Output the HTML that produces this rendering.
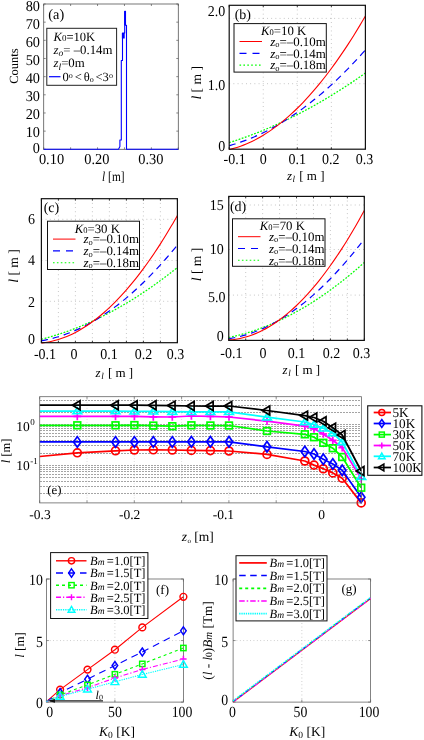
<!DOCTYPE html>
<html><head><meta charset="utf-8"><title>figure</title>
<style>
html,body{margin:0;padding:0;background:#fff;}
body{width:424px;height:740px;overflow:hidden;font-family:"Liberation Serif",serif;}
svg{display:block;font-family:"Liberation Serif",serif;text-rendering:geometricPrecision;will-change:transform;}
</style></head><body>
<svg width="424" height="740" viewBox="0 0 424 740">
<rect x="0" y="0" width="424" height="740" fill="#fff"/>
<rect x="43.70" y="4.00" width="134.60" height="145.30" stroke="#555" stroke-width="0.8" fill="none"/>
<line x1="43.70" y1="149.30" x2="45.70" y2="149.30" stroke="#555" stroke-width="0.7" />
<line x1="176.30" y1="149.30" x2="178.30" y2="149.30" stroke="#555" stroke-width="0.7" />
<text transform="translate(40.00,152.50) scale(1.0,1.05)" font-size="14.3" text-anchor="end" fill="#000" >0</text>
<line x1="43.70" y1="131.14" x2="45.70" y2="131.14" stroke="#555" stroke-width="0.7" />
<line x1="176.30" y1="131.14" x2="178.30" y2="131.14" stroke="#555" stroke-width="0.7" />
<text transform="translate(40.00,136.50) scale(1.0,1.05)" font-size="14.3" text-anchor="end" fill="#000" >10</text>
<line x1="43.70" y1="112.98" x2="45.70" y2="112.98" stroke="#555" stroke-width="0.7" />
<line x1="176.30" y1="112.98" x2="178.30" y2="112.98" stroke="#555" stroke-width="0.7" />
<text transform="translate(40.00,118.60) scale(1.0,1.05)" font-size="14.3" text-anchor="end" fill="#000" >20</text>
<line x1="43.70" y1="94.81" x2="45.70" y2="94.81" stroke="#555" stroke-width="0.7" />
<line x1="176.30" y1="94.81" x2="178.30" y2="94.81" stroke="#555" stroke-width="0.7" />
<text transform="translate(40.00,100.70) scale(1.0,1.05)" font-size="14.3" text-anchor="end" fill="#000" >30</text>
<line x1="43.70" y1="76.65" x2="45.70" y2="76.65" stroke="#555" stroke-width="0.7" />
<line x1="176.30" y1="76.65" x2="178.30" y2="76.65" stroke="#555" stroke-width="0.7" />
<text transform="translate(40.00,82.80) scale(1.0,1.05)" font-size="14.3" text-anchor="end" fill="#000" >40</text>
<line x1="43.70" y1="58.49" x2="45.70" y2="58.49" stroke="#555" stroke-width="0.7" />
<line x1="176.30" y1="58.49" x2="178.30" y2="58.49" stroke="#555" stroke-width="0.7" />
<text transform="translate(40.00,64.90) scale(1.0,1.05)" font-size="14.3" text-anchor="end" fill="#000" >50</text>
<line x1="43.70" y1="40.33" x2="45.70" y2="40.33" stroke="#555" stroke-width="0.7" />
<line x1="176.30" y1="40.33" x2="178.30" y2="40.33" stroke="#555" stroke-width="0.7" />
<text transform="translate(40.00,47.00) scale(1.0,1.05)" font-size="14.3" text-anchor="end" fill="#000" >60</text>
<line x1="43.70" y1="22.16" x2="45.70" y2="22.16" stroke="#555" stroke-width="0.7" />
<line x1="176.30" y1="22.16" x2="178.30" y2="22.16" stroke="#555" stroke-width="0.7" />
<text transform="translate(40.00,29.10) scale(1.0,1.05)" font-size="14.3" text-anchor="end" fill="#000" >70</text>
<line x1="43.70" y1="4.00" x2="45.70" y2="4.00" stroke="#555" stroke-width="0.7" />
<line x1="176.30" y1="4.00" x2="178.30" y2="4.00" stroke="#555" stroke-width="0.7" />
<text transform="translate(40.00,11.20) scale(1.0,1.05)" font-size="14.3" text-anchor="end" fill="#000" >80</text>
<line x1="43.70" y1="149.30" x2="43.70" y2="147.30" stroke="#555" stroke-width="0.7" />
<line x1="43.70" y1="4.00" x2="43.70" y2="6.00" stroke="#555" stroke-width="0.7" />
<line x1="70.62" y1="149.30" x2="70.62" y2="147.30" stroke="#555" stroke-width="0.7" />
<line x1="70.62" y1="4.00" x2="70.62" y2="6.00" stroke="#555" stroke-width="0.7" />
<line x1="97.54" y1="149.30" x2="97.54" y2="147.30" stroke="#555" stroke-width="0.7" />
<line x1="97.54" y1="4.00" x2="97.54" y2="6.00" stroke="#555" stroke-width="0.7" />
<line x1="124.46" y1="149.30" x2="124.46" y2="147.30" stroke="#555" stroke-width="0.7" />
<line x1="124.46" y1="4.00" x2="124.46" y2="6.00" stroke="#555" stroke-width="0.7" />
<line x1="151.38" y1="149.30" x2="151.38" y2="147.30" stroke="#555" stroke-width="0.7" />
<line x1="151.38" y1="4.00" x2="151.38" y2="6.00" stroke="#555" stroke-width="0.7" />
<line x1="178.30" y1="149.30" x2="178.30" y2="147.30" stroke="#555" stroke-width="0.7" />
<line x1="178.30" y1="4.00" x2="178.30" y2="6.00" stroke="#555" stroke-width="0.7" />
<text transform="translate(51.50,163.60) scale(1.0,1.05)" font-size="14.4" text-anchor="middle" fill="#000" >0.10</text>
<text transform="translate(96.90,163.60) scale(1.0,1.05)" font-size="14.4" text-anchor="middle" fill="#000" >0.20</text>
<text transform="translate(150.80,163.60) scale(1.0,1.05)" font-size="14.4" text-anchor="middle" fill="#000" >0.30</text>
<text transform="translate(113.30,181.00) scale(1.0,1.2)" font-size="11.4" text-anchor="middle" fill="#000" ><tspan font-style="italic">l</tspan> [m]</text>
<text transform="translate(17.5,66) rotate(-90)" font-size="12.5" text-anchor="middle">Counts</text>
<polyline points="43.70,149.30 118.50,149.30 119.90,146.40 119.90,140.00 121.30,140.00 121.30,60.50 122.50,60.50 122.50,33.00 124.70,33.00 124.70,11.20 125.50,11.20 125.50,25.30 126.50,25.30 126.50,149.30 178.30,149.30" fill="none" stroke="#0000ff" stroke-width="1.1" stroke-linejoin="round" stroke-linejoin="miter"/>
<rect x="121.90" y="33.00" width="2.80" height="5.50" stroke="none" stroke-width="0" fill="#0000ff"/>
<rect x="124.20" y="11.20" width="1.60" height="14.00" stroke="none" stroke-width="0" fill="#0000ff"/>
<rect x="46.80" y="28.30" width="69.80" height="57.00" stroke="#222" stroke-width="1" fill="#fff"/>
<text x="53.50" y="40.90" font-size="12.6" text-anchor="start" fill="#000" ><tspan font-style="italic">K</tspan><tspan font-size="9">0</tspan>=10K</text>
<text x="53.50" y="53.60" font-size="12.8" text-anchor="start" fill="#000" ><tspan font-style="italic">z<tspan font-size="9.5" dy="2.5">o</tspan></tspan><tspan dy="-2.5">= –0.14m</tspan></text>
<text x="53.50" y="67.30" font-size="12.8" text-anchor="start" fill="#000" ><tspan font-style="italic">z<tspan font-size="9.5" dy="2.5">l</tspan></tspan><tspan dy="-2.5">=0m</tspan></text>
<line x1="49.00" y1="76.70" x2="60.50" y2="76.70" stroke="#0000ff" stroke-width="1.2" />
<text x="62.50" y="81.40" font-size="12.5" text-anchor="start" fill="#000" word-spacing="-1.2">0<tspan font-size="8" dy="-3.5">o</tspan><tspan dy="3.5"> &lt; θ</tspan><tspan font-size="8" dy="1">o</tspan><tspan dy="-1"> &lt;3</tspan><tspan font-size="8" dy="-3.5">o</tspan></text>
<text x="48.30" y="19.30" font-size="14.3" text-anchor="start" fill="#000" >(a)</text>
<line x1="263.25" y1="5.30" x2="263.25" y2="149.20" stroke="#adadad" stroke-width="0.75" stroke-dasharray="0.9,3.3" />
<line x1="297.30" y1="5.30" x2="297.30" y2="149.20" stroke="#adadad" stroke-width="0.75" stroke-dasharray="0.9,3.3" />
<line x1="331.35" y1="5.30" x2="331.35" y2="149.20" stroke="#adadad" stroke-width="0.75" stroke-dasharray="0.9,3.3" />
<line x1="229.20" y1="18.40" x2="365.40" y2="18.40" stroke="#adadad" stroke-width="0.75" stroke-dasharray="0.9,3.3" />
<line x1="229.20" y1="83.70" x2="365.40" y2="83.70" stroke="#adadad" stroke-width="0.75" stroke-dasharray="0.9,3.3" />
<path d="M229.20,142.60 C230.15,142.30 232.98,141.40 234.88,140.78 C236.77,140.16 238.66,139.53 240.55,138.87 C242.44,138.22 244.33,137.55 246.22,136.87 C248.12,136.18 250.01,135.49 251.90,134.77 C253.79,134.05 255.68,133.32 257.57,132.58 C259.47,131.83 261.36,131.07 263.25,130.29 C265.14,129.51 267.03,128.72 268.93,127.91 C270.82,127.10 272.71,126.27 274.60,125.43 C276.49,124.59 278.38,123.73 280.27,122.86 C282.17,121.99 284.06,121.10 285.95,120.20 C287.84,119.29 289.73,118.37 291.62,117.44 C293.52,116.50 295.41,115.55 297.30,114.59 C299.19,113.62 301.08,112.64 302.97,111.64 C304.87,110.64 306.76,109.63 308.65,108.60 C310.54,107.57 312.43,106.52 314.32,105.46 C316.22,104.40 318.11,103.32 320.00,102.23 C321.89,101.14 323.78,100.03 325.67,98.91 C327.57,97.78 329.46,96.64 331.35,95.49 C333.24,94.33 335.13,93.16 337.02,91.98 C338.92,90.79 340.81,89.59 342.70,88.37 C344.59,87.15 346.48,85.92 348.38,84.67 C350.27,83.42 352.16,82.15 354.05,80.87 C355.94,79.59 357.83,78.30 359.73,76.98 C361.62,75.67 364.45,73.66 365.40,73.00" fill="none" stroke="#00ff00" stroke-width="1.25" stroke-dasharray="1.8,1.5"/>
<path d="M229.20,145.70 C230.15,145.42 232.98,144.63 234.88,144.04 C236.77,143.46 238.66,142.84 240.55,142.18 C242.44,141.53 244.33,140.84 246.22,140.12 C248.12,139.40 250.01,138.65 251.90,137.86 C253.79,137.07 255.68,136.25 257.57,135.39 C259.47,134.53 261.36,133.64 263.25,132.72 C265.14,131.80 267.03,130.84 268.93,129.85 C270.82,128.86 272.71,127.83 274.60,126.77 C276.49,125.71 278.38,124.62 280.27,123.49 C282.17,122.37 284.06,121.21 285.95,120.01 C287.84,118.82 289.73,117.59 291.62,116.33 C293.52,115.07 295.41,113.77 297.30,112.44 C299.19,111.12 301.08,109.75 302.97,108.36 C304.87,106.96 306.76,105.53 308.65,104.06 C310.54,102.60 312.43,101.10 314.32,99.57 C316.22,98.04 318.11,96.47 320.00,94.87 C321.89,93.27 323.78,91.64 325.67,89.97 C327.57,88.31 329.46,86.61 331.35,84.87 C333.24,83.14 335.13,81.37 337.02,79.57 C338.92,77.76 340.81,75.93 342.70,74.06 C344.59,72.19 346.48,70.28 348.38,68.35 C350.27,66.41 352.16,64.44 354.05,62.43 C355.94,60.43 357.83,58.39 359.73,56.32 C361.62,54.25 364.45,51.05 365.40,50.00" fill="none" stroke="#0000ff" stroke-width="1.2" stroke-dasharray="6.6,4.9"/>
<path d="M229.20,149.50 C230.15,149.25 232.98,148.57 234.88,148.01 C236.77,147.45 238.66,146.84 240.55,146.17 C242.44,145.49 244.33,144.76 246.22,143.97 C248.12,143.18 250.01,142.33 251.90,141.42 C253.79,140.51 255.68,139.54 257.57,138.51 C259.47,137.48 261.36,136.39 263.25,135.25 C265.14,134.10 267.03,132.90 268.93,131.63 C270.82,130.37 272.71,129.05 274.60,127.67 C276.49,126.28 278.38,124.84 280.27,123.34 C282.17,121.84 284.06,120.28 285.95,118.67 C287.84,117.05 289.73,115.37 291.62,113.63 C293.52,111.90 295.41,110.10 297.30,108.25 C299.19,106.39 301.08,104.48 302.97,102.51 C304.87,100.54 306.76,98.51 308.65,96.42 C310.54,94.32 312.43,92.18 314.32,89.97 C316.22,87.76 318.11,85.49 320.00,83.17 C321.89,80.84 323.78,78.45 325.67,76.01 C327.57,73.56 329.46,71.06 331.35,68.50 C333.24,65.94 335.13,63.31 337.02,60.63 C338.92,57.95 340.81,55.21 342.70,52.42 C344.59,49.62 346.48,46.76 348.38,43.84 C350.27,40.93 352.16,37.95 354.05,34.92 C355.94,31.88 357.83,28.79 359.73,25.64 C361.62,22.48 364.45,17.61 365.40,16.00" fill="none" stroke="#ff0000" stroke-width="1.1"/>
<rect x="229.20" y="5.30" width="136.20" height="143.90" stroke="#111" stroke-width="1.2" fill="none"/>
<line x1="229.20" y1="149.20" x2="229.20" y2="147.20" stroke="#111" stroke-width="0.8" />
<line x1="229.20" y1="5.30" x2="229.20" y2="7.30" stroke="#111" stroke-width="0.8" />
<line x1="263.25" y1="149.20" x2="263.25" y2="147.20" stroke="#111" stroke-width="0.8" />
<line x1="263.25" y1="5.30" x2="263.25" y2="7.30" stroke="#111" stroke-width="0.8" />
<line x1="297.30" y1="149.20" x2="297.30" y2="147.20" stroke="#111" stroke-width="0.8" />
<line x1="297.30" y1="5.30" x2="297.30" y2="7.30" stroke="#111" stroke-width="0.8" />
<line x1="331.35" y1="149.20" x2="331.35" y2="147.20" stroke="#111" stroke-width="0.8" />
<line x1="331.35" y1="5.30" x2="331.35" y2="7.30" stroke="#111" stroke-width="0.8" />
<line x1="365.40" y1="149.20" x2="365.40" y2="147.20" stroke="#111" stroke-width="0.8" />
<line x1="365.40" y1="5.30" x2="365.40" y2="7.30" stroke="#111" stroke-width="0.8" />
<text transform="translate(225.20,16.30) scale(1.0,1.07)" font-size="14" text-anchor="end" fill="#000" >2.0</text>
<text transform="translate(225.20,89.70) scale(1.0,1.07)" font-size="14" text-anchor="end" fill="#000" >1.0</text>
<text transform="translate(225.20,151.30) scale(1.0,1.07)" font-size="14" text-anchor="end" fill="#000" >0</text>
<text transform="translate(234.60,163.70) scale(1.0,1.07)" font-size="14" text-anchor="middle" fill="#000" >-0.1</text>
<text transform="translate(263.30,163.70) scale(1.0,1.07)" font-size="14" text-anchor="middle" fill="#000" >0</text>
<text transform="translate(297.20,163.70) scale(1.0,1.07)" font-size="14" text-anchor="middle" fill="#000" >0.1</text>
<text transform="translate(330.80,163.70) scale(1.0,1.07)" font-size="14" text-anchor="middle" fill="#000" >0.2</text>
<text transform="translate(364.50,163.70) scale(1.0,1.07)" font-size="14" text-anchor="middle" fill="#000" >0.3</text>
<text x="305.70" y="180.00" font-size="13" text-anchor="middle" fill="#000" ><tspan font-style="italic">z<tspan font-size="9" dy="2" dx="0.5">l</tspan></tspan><tspan dy="-2" dx="1"> [ m ]</tspan></text>
<text transform="translate(200.5,82.8) rotate(-90)" font-size="13.6" text-anchor="middle"><tspan font-style="italic">l</tspan> [ m ]</text>
<rect x="234.00" y="23.60" width="92.30" height="48.50" stroke="#111" stroke-width="1" fill="#fff"/>
<text x="283.65" y="34.90" font-size="12.8" text-anchor="middle" fill="#000" ><tspan font-style="italic">K</tspan><tspan font-size="8.5">0</tspan>=10 K</text>
<line x1="239.50" y1="41.50" x2="262.00" y2="41.50" stroke="#ff0000" stroke-width="1" />
<line x1="239.50" y1="53.30" x2="262.00" y2="53.30" stroke="#0000ff" stroke-width="1.2" stroke-dasharray="7,6" />
<line x1="239.50" y1="65.10" x2="262.00" y2="65.10" stroke="#00ff00" stroke-width="1.1" stroke-dasharray="1.6,2.3" />
<text x="325.80" y="45.70" font-size="12.9" text-anchor="end" fill="#000" ><tspan font-style="italic">z</tspan><tspan font-size="8.5" dy="1.5">o</tspan><tspan dy="-1.5">=–0.10m</tspan></text>
<text x="325.80" y="57.50" font-size="12.9" text-anchor="end" fill="#000" ><tspan font-style="italic">z</tspan><tspan font-size="8.5" dy="1.5">o</tspan><tspan dy="-1.5">=–0.14m</tspan></text>
<text x="325.80" y="69.30" font-size="12.9" text-anchor="end" fill="#000" ><tspan font-style="italic">z</tspan><tspan font-size="8.5" dy="1.5">o</tspan><tspan dy="-1.5">=–0.18m</tspan></text>
<text x="234.70" y="19.00" font-size="14" text-anchor="start" fill="#000" >(b)</text>
<line x1="58.40" y1="198.70" x2="58.40" y2="342.70" stroke="#adadad" stroke-width="0.75" stroke-dasharray="0.9,3.3" />
<line x1="75.40" y1="198.70" x2="75.40" y2="342.70" stroke="#adadad" stroke-width="0.75" stroke-dasharray="0.9,3.3" />
<line x1="92.40" y1="198.70" x2="92.40" y2="342.70" stroke="#adadad" stroke-width="0.75" stroke-dasharray="0.9,3.3" />
<line x1="109.40" y1="198.70" x2="109.40" y2="342.70" stroke="#adadad" stroke-width="0.75" stroke-dasharray="0.9,3.3" />
<line x1="126.40" y1="198.70" x2="126.40" y2="342.70" stroke="#adadad" stroke-width="0.75" stroke-dasharray="0.9,3.3" />
<line x1="143.40" y1="198.70" x2="143.40" y2="342.70" stroke="#adadad" stroke-width="0.75" stroke-dasharray="0.9,3.3" />
<line x1="160.40" y1="198.70" x2="160.40" y2="342.70" stroke="#adadad" stroke-width="0.75" stroke-dasharray="0.9,3.3" />
<line x1="41.40" y1="219.30" x2="177.40" y2="219.30" stroke="#adadad" stroke-width="0.75" stroke-dasharray="0.9,3.3" />
<line x1="41.40" y1="260.50" x2="177.40" y2="260.50" stroke="#adadad" stroke-width="0.75" stroke-dasharray="0.9,3.3" />
<line x1="41.40" y1="301.30" x2="177.40" y2="301.30" stroke="#adadad" stroke-width="0.75" stroke-dasharray="0.9,3.3" />
<path d="M41.40,339.25 C42.34,339.00 45.18,338.28 47.07,337.76 C48.96,337.24 50.84,336.69 52.73,336.13 C54.62,335.57 56.51,334.98 58.40,334.38 C60.29,333.77 62.18,333.14 64.07,332.49 C65.96,331.84 67.84,331.17 69.73,330.48 C71.62,329.79 73.51,329.07 75.40,328.34 C77.29,327.60 79.18,326.84 81.07,326.06 C82.96,325.28 84.84,324.48 86.73,323.66 C88.62,322.83 90.51,321.99 92.40,321.12 C94.29,320.26 96.18,319.37 98.07,318.46 C99.96,317.55 101.84,316.62 103.73,315.66 C105.62,314.71 107.51,313.73 109.40,312.74 C111.29,311.74 113.18,310.72 115.07,309.68 C116.96,308.64 118.84,307.58 120.73,306.50 C122.62,305.42 124.51,304.31 126.40,303.18 C128.29,302.06 130.18,300.91 132.07,299.74 C133.96,298.57 135.84,297.38 137.73,296.16 C139.62,294.95 141.51,293.72 143.40,292.46 C145.29,291.20 147.18,289.93 149.07,288.63 C150.96,287.33 152.84,286.00 154.73,284.66 C156.62,283.32 158.51,281.95 160.40,280.57 C162.29,279.18 164.18,277.77 166.07,276.34 C167.96,274.91 169.84,273.46 171.73,271.99 C173.62,270.51 176.46,268.25 177.40,267.50" fill="none" stroke="#00ff00" stroke-width="1.25" stroke-dasharray="1.8,1.5"/>
<path d="M41.40,340.75 C42.34,340.57 45.18,340.06 47.07,339.65 C48.96,339.25 50.84,338.80 52.73,338.31 C54.62,337.82 56.51,337.28 58.40,336.71 C60.29,336.13 62.18,335.52 64.07,334.86 C65.96,334.20 67.84,333.50 69.73,332.76 C71.62,332.01 73.51,331.23 75.40,330.40 C77.29,329.58 79.18,328.71 81.07,327.80 C82.96,326.89 84.84,325.93 86.73,324.94 C88.62,323.95 90.51,322.91 92.40,321.83 C94.29,320.75 96.18,319.63 98.07,318.47 C99.96,317.31 101.84,316.11 103.73,314.86 C105.62,313.61 107.51,312.33 109.40,311.00 C111.29,309.67 113.18,308.29 115.07,306.88 C116.96,305.47 118.84,304.01 120.73,302.51 C122.62,301.02 124.51,299.48 126.40,297.89 C128.29,296.31 130.18,294.69 132.07,293.02 C133.96,291.36 135.84,289.65 137.73,287.90 C139.62,286.15 141.51,284.36 143.40,282.53 C145.29,280.69 147.18,278.82 149.07,276.90 C150.96,274.99 152.84,273.03 154.73,271.03 C156.62,269.02 158.51,266.98 160.40,264.90 C162.29,262.81 164.18,260.68 166.07,258.52 C167.96,256.35 169.84,254.14 171.73,251.88 C173.62,249.63 176.46,246.15 177.40,245.00" fill="none" stroke="#0000ff" stroke-width="1.2" stroke-dasharray="6.6,4.9"/>
<path d="M41.40,343.00 C42.34,342.87 45.18,342.54 47.07,342.22 C48.96,341.89 50.84,341.50 52.73,341.04 C54.62,340.59 56.51,340.06 58.40,339.47 C60.29,338.89 62.18,338.23 64.07,337.51 C65.96,336.79 67.84,336.00 69.73,335.15 C71.62,334.30 73.51,333.38 75.40,332.40 C77.29,331.42 79.18,330.37 81.07,329.26 C82.96,328.14 84.84,326.96 86.73,325.72 C88.62,324.47 90.51,323.16 92.40,321.78 C94.29,320.41 96.18,318.96 98.07,317.46 C99.96,315.95 101.84,314.37 103.73,312.73 C105.62,311.09 107.51,309.39 109.40,307.62 C111.29,305.85 113.18,304.01 115.07,302.11 C116.96,300.21 118.84,298.24 120.73,296.21 C122.62,294.17 124.51,292.07 126.40,289.91 C128.29,287.74 130.18,285.51 132.07,283.22 C133.96,280.92 135.84,278.56 137.73,276.13 C139.62,273.70 141.51,271.21 143.40,268.65 C145.29,266.09 147.18,263.47 149.07,260.78 C150.96,258.09 152.84,255.33 154.73,252.51 C156.62,249.69 158.51,246.80 160.40,243.85 C162.29,240.90 164.18,237.88 166.07,234.79 C167.96,231.71 169.84,228.56 171.73,225.34 C173.62,222.13 176.46,217.14 177.40,215.50" fill="none" stroke="#ff0000" stroke-width="1.1"/>
<rect x="41.40" y="198.70" width="136.00" height="144.00" stroke="#111" stroke-width="1.2" fill="none"/>
<line x1="41.40" y1="342.70" x2="41.40" y2="340.70" stroke="#111" stroke-width="0.8" />
<line x1="41.40" y1="198.70" x2="41.40" y2="200.70" stroke="#111" stroke-width="0.8" />
<line x1="58.40" y1="342.70" x2="58.40" y2="340.70" stroke="#111" stroke-width="0.8" />
<line x1="58.40" y1="198.70" x2="58.40" y2="200.70" stroke="#111" stroke-width="0.8" />
<line x1="75.40" y1="342.70" x2="75.40" y2="340.70" stroke="#111" stroke-width="0.8" />
<line x1="75.40" y1="198.70" x2="75.40" y2="200.70" stroke="#111" stroke-width="0.8" />
<line x1="92.40" y1="342.70" x2="92.40" y2="340.70" stroke="#111" stroke-width="0.8" />
<line x1="92.40" y1="198.70" x2="92.40" y2="200.70" stroke="#111" stroke-width="0.8" />
<line x1="109.40" y1="342.70" x2="109.40" y2="340.70" stroke="#111" stroke-width="0.8" />
<line x1="109.40" y1="198.70" x2="109.40" y2="200.70" stroke="#111" stroke-width="0.8" />
<line x1="126.40" y1="342.70" x2="126.40" y2="340.70" stroke="#111" stroke-width="0.8" />
<line x1="126.40" y1="198.70" x2="126.40" y2="200.70" stroke="#111" stroke-width="0.8" />
<line x1="143.40" y1="342.70" x2="143.40" y2="340.70" stroke="#111" stroke-width="0.8" />
<line x1="143.40" y1="198.70" x2="143.40" y2="200.70" stroke="#111" stroke-width="0.8" />
<line x1="160.40" y1="342.70" x2="160.40" y2="340.70" stroke="#111" stroke-width="0.8" />
<line x1="160.40" y1="198.70" x2="160.40" y2="200.70" stroke="#111" stroke-width="0.8" />
<line x1="177.40" y1="342.70" x2="177.40" y2="340.70" stroke="#111" stroke-width="0.8" />
<line x1="177.40" y1="198.70" x2="177.40" y2="200.70" stroke="#111" stroke-width="0.8" />
<text transform="translate(34.90,224.00) scale(1.0,1.07)" font-size="14" text-anchor="end" fill="#000" >6</text>
<text transform="translate(34.90,265.00) scale(1.0,1.07)" font-size="14" text-anchor="end" fill="#000" >4</text>
<text transform="translate(34.90,306.50) scale(1.0,1.07)" font-size="14" text-anchor="end" fill="#000" >2</text>
<text transform="translate(34.90,343.50) scale(1.0,1.07)" font-size="14" text-anchor="end" fill="#000" >0</text>
<text transform="translate(45.00,359.00) scale(1.0,1.07)" font-size="14" text-anchor="middle" fill="#000" >-0.1</text>
<text transform="translate(74.00,359.00) scale(1.0,1.07)" font-size="14" text-anchor="middle" fill="#000" >0</text>
<text transform="translate(109.00,359.00) scale(1.0,1.07)" font-size="14" text-anchor="middle" fill="#000" >0.1</text>
<text transform="translate(143.50,359.00) scale(1.0,1.07)" font-size="14" text-anchor="middle" fill="#000" >0.2</text>
<text transform="translate(175.50,359.00) scale(1.0,1.07)" font-size="14" text-anchor="middle" fill="#000" >0.3</text>
<text x="114.40" y="377.40" font-size="13" text-anchor="middle" fill="#000" ><tspan font-style="italic">z<tspan font-size="9" dy="2" dx="0.5">l</tspan></tspan><tspan dy="-2" dx="1"> [ m ]</tspan></text>
<text transform="translate(17.5,266) rotate(-90)" font-size="13.6" text-anchor="middle"><tspan font-style="italic">l</tspan> [ m ]</text>
<rect x="47.50" y="221.20" width="92.00" height="48.30" stroke="#111" stroke-width="1" fill="#fff"/>
<text x="97.30" y="232.50" font-size="12.8" text-anchor="middle" fill="#000" ><tspan font-style="italic">K</tspan><tspan font-size="8.5">0</tspan>=30 K</text>
<line x1="53.00" y1="239.10" x2="75.50" y2="239.10" stroke="#ff0000" stroke-width="1" />
<line x1="53.00" y1="250.90" x2="75.50" y2="250.90" stroke="#0000ff" stroke-width="1.2" stroke-dasharray="7,6" />
<line x1="53.00" y1="262.70" x2="75.50" y2="262.70" stroke="#00ff00" stroke-width="1.1" stroke-dasharray="1.6,2.3" />
<text x="139.00" y="243.30" font-size="12.9" text-anchor="end" fill="#000" ><tspan font-style="italic">z</tspan><tspan font-size="8.5" dy="1.5">o</tspan><tspan dy="-1.5">=–0.10m</tspan></text>
<text x="139.00" y="255.10" font-size="12.9" text-anchor="end" fill="#000" ><tspan font-style="italic">z</tspan><tspan font-size="8.5" dy="1.5">o</tspan><tspan dy="-1.5">=–0.14m</tspan></text>
<text x="139.00" y="266.90" font-size="12.9" text-anchor="end" fill="#000" ><tspan font-style="italic">z</tspan><tspan font-size="8.5" dy="1.5">o</tspan><tspan dy="-1.5">=–0.18m</tspan></text>
<text x="43.70" y="212.20" font-size="14" text-anchor="start" fill="#000" >(c)</text>
<line x1="245.69" y1="196.40" x2="245.69" y2="340.40" stroke="#adadad" stroke-width="0.75" stroke-dasharray="0.9,3.3" />
<line x1="262.64" y1="196.40" x2="262.64" y2="340.40" stroke="#adadad" stroke-width="0.75" stroke-dasharray="0.9,3.3" />
<line x1="279.58" y1="196.40" x2="279.58" y2="340.40" stroke="#adadad" stroke-width="0.75" stroke-dasharray="0.9,3.3" />
<line x1="296.52" y1="196.40" x2="296.52" y2="340.40" stroke="#adadad" stroke-width="0.75" stroke-dasharray="0.9,3.3" />
<line x1="313.47" y1="196.40" x2="313.47" y2="340.40" stroke="#adadad" stroke-width="0.75" stroke-dasharray="0.9,3.3" />
<line x1="330.41" y1="196.40" x2="330.41" y2="340.40" stroke="#adadad" stroke-width="0.75" stroke-dasharray="0.9,3.3" />
<line x1="347.36" y1="196.40" x2="347.36" y2="340.40" stroke="#adadad" stroke-width="0.75" stroke-dasharray="0.9,3.3" />
<line x1="228.75" y1="205.00" x2="364.30" y2="205.00" stroke="#adadad" stroke-width="0.75" stroke-dasharray="0.9,3.3" />
<line x1="228.75" y1="249.50" x2="364.30" y2="249.50" stroke="#adadad" stroke-width="0.75" stroke-dasharray="0.9,3.3" />
<line x1="228.75" y1="295.10" x2="364.30" y2="295.10" stroke="#adadad" stroke-width="0.75" stroke-dasharray="0.9,3.3" />
<path d="M228.75,337.50 C229.69,337.29 232.52,336.69 234.40,336.25 C236.28,335.80 238.16,335.33 240.05,334.83 C241.93,334.33 243.81,333.80 245.69,333.25 C247.58,332.69 249.46,332.11 251.34,331.51 C253.22,330.90 255.11,330.26 256.99,329.60 C258.87,328.94 260.75,328.25 262.64,327.53 C264.52,326.82 266.40,326.07 268.29,325.30 C270.17,324.53 272.05,323.73 273.93,322.91 C275.82,322.08 277.70,321.23 279.58,320.35 C281.46,319.47 283.35,318.57 285.23,317.63 C287.11,316.70 288.99,315.74 290.88,314.75 C292.76,313.77 294.64,312.75 296.52,311.71 C298.41,310.67 300.29,309.60 302.17,308.50 C304.06,307.41 305.94,306.28 307.82,305.13 C309.70,303.98 311.59,302.81 313.47,301.60 C315.35,300.40 317.23,299.17 319.12,297.91 C321.00,296.65 322.88,295.36 324.76,294.05 C326.65,292.74 328.53,291.40 330.41,290.03 C332.30,288.67 334.18,287.27 336.06,285.85 C337.94,284.43 339.83,282.98 341.71,281.51 C343.59,280.03 345.47,278.53 347.36,277.00 C349.24,275.47 351.12,273.91 353.00,272.33 C354.89,270.74 356.77,269.13 358.65,267.50 C360.53,265.86 363.36,263.33 364.30,262.50" fill="none" stroke="#00ff00" stroke-width="1.25" stroke-dasharray="1.8,1.5"/>
<path d="M228.75,338.75 C229.69,338.58 232.52,338.12 234.40,337.74 C236.28,337.36 238.16,336.93 240.05,336.46 C241.93,335.98 243.81,335.46 245.69,334.90 C247.58,334.34 249.46,333.73 251.34,333.07 C253.22,332.41 255.11,331.71 256.99,330.97 C258.87,330.22 260.75,329.43 262.64,328.59 C264.52,327.75 266.40,326.87 268.29,325.94 C270.17,325.01 272.05,324.03 273.93,323.01 C275.82,321.99 277.70,320.92 279.58,319.81 C281.46,318.70 283.35,317.54 285.23,316.34 C287.11,315.14 288.99,313.89 290.88,312.60 C292.76,311.30 294.64,309.96 296.52,308.58 C298.41,307.19 300.29,305.76 302.17,304.28 C304.06,302.81 305.94,301.28 307.82,299.72 C309.70,298.15 311.59,296.53 313.47,294.88 C315.35,293.22 317.23,291.51 319.12,289.76 C321.00,288.01 322.88,286.22 324.76,284.37 C326.65,282.53 328.53,280.65 330.41,278.71 C332.30,276.78 334.18,274.80 336.06,272.78 C337.94,270.75 339.83,268.68 341.71,266.57 C343.59,264.45 345.47,262.29 347.36,260.09 C349.24,257.88 351.12,255.63 353.00,253.33 C354.89,251.03 356.77,248.69 358.65,246.30 C360.53,243.91 363.36,240.22 364.30,239.00" fill="none" stroke="#0000ff" stroke-width="1.2" stroke-dasharray="6.6,4.9"/>
<path d="M228.75,340.00 C229.69,339.91 232.52,339.69 234.40,339.43 C236.28,339.18 238.16,338.85 240.05,338.45 C241.93,338.05 243.81,337.58 245.69,337.04 C247.58,336.50 249.46,335.89 251.34,335.22 C253.22,334.54 255.11,333.79 256.99,332.97 C258.87,332.15 260.75,331.26 262.64,330.30 C264.52,329.35 266.40,328.32 268.29,327.22 C270.17,326.12 272.05,324.95 273.93,323.71 C275.82,322.47 277.70,321.16 279.58,319.79 C281.46,318.41 283.35,316.96 285.23,315.44 C287.11,313.92 288.99,312.33 290.88,310.67 C292.76,309.02 294.64,307.29 296.52,305.49 C298.41,303.69 300.29,301.82 302.17,299.88 C304.06,297.94 305.94,295.94 307.82,293.86 C309.70,291.78 311.59,289.63 313.47,287.41 C315.35,285.19 317.23,282.90 319.12,280.55 C321.00,278.19 322.88,275.76 324.76,273.26 C326.65,270.76 328.53,268.19 330.41,265.55 C332.30,262.92 334.18,260.21 336.06,257.43 C337.94,254.65 339.83,251.80 341.71,248.88 C343.59,245.96 345.47,242.98 347.36,239.92 C349.24,236.86 351.12,233.73 353.00,230.53 C354.89,227.33 356.77,224.06 358.65,220.73 C360.53,217.39 363.36,212.20 364.30,210.50" fill="none" stroke="#ff0000" stroke-width="1.1"/>
<rect x="228.75" y="196.40" width="135.55" height="144.00" stroke="#111" stroke-width="1.2" fill="none"/>
<line x1="228.75" y1="340.40" x2="228.75" y2="338.40" stroke="#111" stroke-width="0.8" />
<line x1="228.75" y1="196.40" x2="228.75" y2="198.40" stroke="#111" stroke-width="0.8" />
<line x1="245.69" y1="340.40" x2="245.69" y2="338.40" stroke="#111" stroke-width="0.8" />
<line x1="245.69" y1="196.40" x2="245.69" y2="198.40" stroke="#111" stroke-width="0.8" />
<line x1="262.64" y1="340.40" x2="262.64" y2="338.40" stroke="#111" stroke-width="0.8" />
<line x1="262.64" y1="196.40" x2="262.64" y2="198.40" stroke="#111" stroke-width="0.8" />
<line x1="279.58" y1="340.40" x2="279.58" y2="338.40" stroke="#111" stroke-width="0.8" />
<line x1="279.58" y1="196.40" x2="279.58" y2="198.40" stroke="#111" stroke-width="0.8" />
<line x1="296.52" y1="340.40" x2="296.52" y2="338.40" stroke="#111" stroke-width="0.8" />
<line x1="296.52" y1="196.40" x2="296.52" y2="198.40" stroke="#111" stroke-width="0.8" />
<line x1="313.47" y1="340.40" x2="313.47" y2="338.40" stroke="#111" stroke-width="0.8" />
<line x1="313.47" y1="196.40" x2="313.47" y2="198.40" stroke="#111" stroke-width="0.8" />
<line x1="330.41" y1="340.40" x2="330.41" y2="338.40" stroke="#111" stroke-width="0.8" />
<line x1="330.41" y1="196.40" x2="330.41" y2="198.40" stroke="#111" stroke-width="0.8" />
<line x1="347.36" y1="340.40" x2="347.36" y2="338.40" stroke="#111" stroke-width="0.8" />
<line x1="347.36" y1="196.40" x2="347.36" y2="198.40" stroke="#111" stroke-width="0.8" />
<line x1="364.30" y1="340.40" x2="364.30" y2="338.40" stroke="#111" stroke-width="0.8" />
<line x1="364.30" y1="196.40" x2="364.30" y2="198.40" stroke="#111" stroke-width="0.8" />
<text transform="translate(223.75,210.00) scale(1.0,1.07)" font-size="14" text-anchor="end" fill="#000" >15</text>
<text transform="translate(223.75,254.00) scale(1.0,1.07)" font-size="14" text-anchor="end" fill="#000" >10</text>
<text transform="translate(225.55,301.60) scale(1.0,1.07)" font-size="14" text-anchor="end" fill="#000" >5.0</text>
<text transform="translate(223.75,341.00) scale(1.0,1.07)" font-size="14" text-anchor="end" fill="#000" >0</text>
<text transform="translate(231.30,358.00) scale(1.0,1.07)" font-size="14" text-anchor="middle" fill="#000" >-0.1</text>
<text transform="translate(263.10,358.00) scale(1.0,1.07)" font-size="14" text-anchor="middle" fill="#000" >0</text>
<text transform="translate(296.40,358.00) scale(1.0,1.07)" font-size="14" text-anchor="middle" fill="#000" >0.1</text>
<text transform="translate(331.40,358.00) scale(1.0,1.07)" font-size="14" text-anchor="middle" fill="#000" >0.2</text>
<text transform="translate(361.40,358.00) scale(1.0,1.07)" font-size="14" text-anchor="middle" fill="#000" >0.3</text>
<text x="301.40" y="374.20" font-size="13" text-anchor="middle" fill="#000" ><tspan font-style="italic">z<tspan font-size="9" dy="2" dx="0.5">l</tspan></tspan><tspan dy="-2" dx="1"> [ m ]</tspan></text>
<text transform="translate(201,264.5) rotate(-90)" font-size="13.6" text-anchor="middle"><tspan font-style="italic">l</tspan> [ m ]</text>
<rect x="232.50" y="218.80" width="92.50" height="47.50" stroke="#111" stroke-width="1" fill="#fff"/>
<text x="282.35" y="230.10" font-size="12.8" text-anchor="middle" fill="#000" ><tspan font-style="italic">K</tspan><tspan font-size="8.5">0</tspan>=70 K</text>
<line x1="238.00" y1="236.70" x2="260.50" y2="236.70" stroke="#ff0000" stroke-width="1" />
<line x1="238.00" y1="248.50" x2="260.50" y2="248.50" stroke="#0000ff" stroke-width="1.2" stroke-dasharray="7,6" />
<line x1="238.00" y1="260.30" x2="260.50" y2="260.30" stroke="#00ff00" stroke-width="1.1" stroke-dasharray="1.6,2.3" />
<text x="324.50" y="240.90" font-size="12.9" text-anchor="end" fill="#000" ><tspan font-style="italic">z</tspan><tspan font-size="8.5" dy="1.5">o</tspan><tspan dy="-1.5">=–0.10m</tspan></text>
<text x="324.50" y="252.70" font-size="12.9" text-anchor="end" fill="#000" ><tspan font-style="italic">z</tspan><tspan font-size="8.5" dy="1.5">o</tspan><tspan dy="-1.5">=–0.14m</tspan></text>
<text x="324.50" y="264.50" font-size="12.9" text-anchor="end" fill="#000" ><tspan font-style="italic">z</tspan><tspan font-size="8.5" dy="1.5">o</tspan><tspan dy="-1.5">=–0.18m</tspan></text>
<text x="229.95" y="210.90" font-size="14" text-anchor="start" fill="#000" >(d)</text>
<line x1="39.70" y1="493.50" x2="361.40" y2="493.50" stroke="#a4a4a4" stroke-width="1" stroke-dasharray="2,1" shape-rendering="crispEdges"/>
<line x1="39.70" y1="486.50" x2="361.40" y2="486.50" stroke="#a4a4a4" stroke-width="1" stroke-dasharray="2,1" shape-rendering="crispEdges"/>
<line x1="39.70" y1="481.50" x2="361.40" y2="481.50" stroke="#a4a4a4" stroke-width="1" stroke-dasharray="2,1" shape-rendering="crispEdges"/>
<line x1="39.70" y1="477.50" x2="361.40" y2="477.50" stroke="#a4a4a4" stroke-width="1" stroke-dasharray="2,1" shape-rendering="crispEdges"/>
<line x1="39.70" y1="474.50" x2="361.40" y2="474.50" stroke="#a4a4a4" stroke-width="1" stroke-dasharray="2,1" shape-rendering="crispEdges"/>
<line x1="39.70" y1="471.50" x2="361.40" y2="471.50" stroke="#a4a4a4" stroke-width="1" stroke-dasharray="2,1" shape-rendering="crispEdges"/>
<line x1="39.70" y1="469.50" x2="361.40" y2="469.50" stroke="#a4a4a4" stroke-width="1" stroke-dasharray="2,1" shape-rendering="crispEdges"/>
<line x1="39.70" y1="467.50" x2="361.40" y2="467.50" stroke="#a4a4a4" stroke-width="1" stroke-dasharray="2,1" shape-rendering="crispEdges"/>
<line x1="39.70" y1="465.50" x2="361.40" y2="465.50" stroke="#a4a4a4" stroke-width="1" stroke-dasharray="2,1" shape-rendering="crispEdges"/>
<line x1="39.70" y1="453.50" x2="361.40" y2="453.50" stroke="#a4a4a4" stroke-width="1" stroke-dasharray="2,1" shape-rendering="crispEdges"/>
<line x1="39.70" y1="445.50" x2="361.40" y2="445.50" stroke="#a4a4a4" stroke-width="1" stroke-dasharray="2,1" shape-rendering="crispEdges"/>
<line x1="39.70" y1="440.50" x2="361.40" y2="440.50" stroke="#a4a4a4" stroke-width="1" stroke-dasharray="2,1" shape-rendering="crispEdges"/>
<line x1="39.70" y1="436.50" x2="361.40" y2="436.50" stroke="#a4a4a4" stroke-width="1" stroke-dasharray="2,1" shape-rendering="crispEdges"/>
<line x1="39.70" y1="433.50" x2="361.40" y2="433.50" stroke="#a4a4a4" stroke-width="1" stroke-dasharray="2,1" shape-rendering="crispEdges"/>
<line x1="39.70" y1="430.50" x2="361.40" y2="430.50" stroke="#a4a4a4" stroke-width="1" stroke-dasharray="2,1" shape-rendering="crispEdges"/>
<line x1="39.70" y1="428.50" x2="361.40" y2="428.50" stroke="#a4a4a4" stroke-width="1" stroke-dasharray="2,1" shape-rendering="crispEdges"/>
<line x1="39.70" y1="426.50" x2="361.40" y2="426.50" stroke="#a4a4a4" stroke-width="1" stroke-dasharray="2,1" shape-rendering="crispEdges"/>
<line x1="39.70" y1="424.50" x2="361.40" y2="424.50" stroke="#a4a4a4" stroke-width="1" stroke-dasharray="2,1" shape-rendering="crispEdges"/>
<line x1="39.70" y1="412.50" x2="361.40" y2="412.50" stroke="#a4a4a4" stroke-width="1" stroke-dasharray="2,1" shape-rendering="crispEdges"/>
<line x1="39.70" y1="405.50" x2="361.40" y2="405.50" stroke="#a4a4a4" stroke-width="1" stroke-dasharray="2,1" shape-rendering="crispEdges"/>
<line x1="39.70" y1="400.50" x2="361.40" y2="400.50" stroke="#a4a4a4" stroke-width="1" stroke-dasharray="2,1" shape-rendering="crispEdges"/>
<line x1="87.00" y1="396.70" x2="87.00" y2="502.90" stroke="#bbb" stroke-width="0.6" stroke-dasharray="0.8,2" />
<line x1="134.30" y1="396.70" x2="134.30" y2="502.90" stroke="#bbb" stroke-width="0.6" stroke-dasharray="0.8,2" />
<line x1="181.60" y1="396.70" x2="181.60" y2="502.90" stroke="#bbb" stroke-width="0.6" stroke-dasharray="0.8,2" />
<line x1="228.90" y1="396.70" x2="228.90" y2="502.90" stroke="#bbb" stroke-width="0.6" stroke-dasharray="0.8,2" />
<line x1="276.20" y1="396.70" x2="276.20" y2="502.90" stroke="#bbb" stroke-width="0.6" stroke-dasharray="0.8,2" />
<line x1="323.50" y1="396.70" x2="323.50" y2="502.90" stroke="#bbb" stroke-width="0.6" stroke-dasharray="0.8,2" />
<polyline points="39.70,456.50 77.30,452.80 115.50,450.80 134.40,450.00 153.30,449.80 172.30,450.00 191.40,450.40 210.40,450.60 229.00,451.00 267.00,454.40 304.80,461.00 314.00,465.10 323.30,468.80 332.80,472.90 342.20,478.20 361.20,502.90" fill="none" stroke="#ff0000" stroke-width="1.75" stroke-linejoin="round" />
<circle cx="77.30" cy="452.80" r="3.96" fill="none" stroke="#ff0000" stroke-width="1.7"/>
<circle cx="115.50" cy="450.80" r="3.96" fill="none" stroke="#ff0000" stroke-width="1.7"/>
<circle cx="134.40" cy="450.00" r="3.96" fill="none" stroke="#ff0000" stroke-width="1.7"/>
<circle cx="153.30" cy="449.80" r="3.96" fill="none" stroke="#ff0000" stroke-width="1.7"/>
<circle cx="172.30" cy="450.00" r="3.96" fill="none" stroke="#ff0000" stroke-width="1.7"/>
<circle cx="191.40" cy="450.40" r="3.96" fill="none" stroke="#ff0000" stroke-width="1.7"/>
<circle cx="210.40" cy="450.60" r="3.96" fill="none" stroke="#ff0000" stroke-width="1.7"/>
<circle cx="229.00" cy="451.00" r="3.96" fill="none" stroke="#ff0000" stroke-width="1.7"/>
<circle cx="267.00" cy="454.40" r="3.96" fill="none" stroke="#ff0000" stroke-width="1.7"/>
<circle cx="304.80" cy="461.00" r="3.96" fill="none" stroke="#ff0000" stroke-width="1.7"/>
<circle cx="314.00" cy="465.10" r="3.96" fill="none" stroke="#ff0000" stroke-width="1.7"/>
<circle cx="323.30" cy="468.80" r="3.96" fill="none" stroke="#ff0000" stroke-width="1.7"/>
<circle cx="332.80" cy="472.90" r="3.96" fill="none" stroke="#ff0000" stroke-width="1.7"/>
<circle cx="342.20" cy="478.20" r="3.96" fill="none" stroke="#ff0000" stroke-width="1.7"/>
<circle cx="361.20" cy="502.90" r="3.96" fill="none" stroke="#ff0000" stroke-width="1.7"/>
<polyline points="39.70,441.90 77.30,441.90 115.50,441.90 134.40,441.90 153.30,441.90 172.30,441.90 191.40,441.80 210.40,441.80 229.00,441.80 267.00,446.80 304.80,451.50 314.00,454.00 323.30,459.30 332.80,464.00 342.20,470.30 361.20,497.20" fill="none" stroke="#0000ff" stroke-width="1.75" stroke-linejoin="round" />
<path d="M77.30,436.62 L81.02,441.90 L77.30,447.18 L73.58,441.90 Z" fill="none" stroke="#0000ff" stroke-width="1.7"/>
<path d="M115.50,436.62 L119.22,441.90 L115.50,447.18 L111.78,441.90 Z" fill="none" stroke="#0000ff" stroke-width="1.7"/>
<path d="M134.40,436.62 L138.12,441.90 L134.40,447.18 L130.68,441.90 Z" fill="none" stroke="#0000ff" stroke-width="1.7"/>
<path d="M153.30,436.62 L157.02,441.90 L153.30,447.18 L149.58,441.90 Z" fill="none" stroke="#0000ff" stroke-width="1.7"/>
<path d="M172.30,436.62 L176.02,441.90 L172.30,447.18 L168.58,441.90 Z" fill="none" stroke="#0000ff" stroke-width="1.7"/>
<path d="M191.40,436.52 L195.12,441.80 L191.40,447.08 L187.68,441.80 Z" fill="none" stroke="#0000ff" stroke-width="1.7"/>
<path d="M210.40,436.52 L214.12,441.80 L210.40,447.08 L206.68,441.80 Z" fill="none" stroke="#0000ff" stroke-width="1.7"/>
<path d="M229.00,436.52 L232.72,441.80 L229.00,447.08 L225.28,441.80 Z" fill="none" stroke="#0000ff" stroke-width="1.7"/>
<path d="M267.00,441.52 L270.72,446.80 L267.00,452.08 L263.28,446.80 Z" fill="none" stroke="#0000ff" stroke-width="1.7"/>
<path d="M304.80,446.22 L308.52,451.50 L304.80,456.78 L301.08,451.50 Z" fill="none" stroke="#0000ff" stroke-width="1.7"/>
<path d="M314.00,448.72 L317.72,454.00 L314.00,459.28 L310.28,454.00 Z" fill="none" stroke="#0000ff" stroke-width="1.7"/>
<path d="M323.30,454.02 L327.02,459.30 L323.30,464.58 L319.58,459.30 Z" fill="none" stroke="#0000ff" stroke-width="1.7"/>
<path d="M332.80,458.72 L336.52,464.00 L332.80,469.28 L329.08,464.00 Z" fill="none" stroke="#0000ff" stroke-width="1.7"/>
<path d="M342.20,465.02 L345.92,470.30 L342.20,475.58 L338.48,470.30 Z" fill="none" stroke="#0000ff" stroke-width="1.7"/>
<path d="M361.20,491.92 L364.92,497.20 L361.20,502.48 L357.48,497.20 Z" fill="none" stroke="#0000ff" stroke-width="1.7"/>
<polyline points="39.70,425.30 77.30,425.30 115.50,425.30 134.40,425.10 153.30,425.60 172.30,426.20 191.40,425.30 210.40,425.50 229.00,425.50 267.00,431.00 304.80,434.30 314.00,437.20 323.30,442.80 332.80,448.20 342.20,457.00 361.20,487.70" fill="none" stroke="#00ff00" stroke-width="1.75" stroke-linejoin="round" />
<rect x="73.94" y="421.94" width="6.72" height="6.72" fill="none" stroke="#00ff00" stroke-width="1.7"/>
<rect x="112.14" y="421.94" width="6.72" height="6.72" fill="none" stroke="#00ff00" stroke-width="1.7"/>
<rect x="131.04" y="421.74" width="6.72" height="6.72" fill="none" stroke="#00ff00" stroke-width="1.7"/>
<rect x="149.94" y="422.24" width="6.72" height="6.72" fill="none" stroke="#00ff00" stroke-width="1.7"/>
<rect x="168.94" y="422.84" width="6.72" height="6.72" fill="none" stroke="#00ff00" stroke-width="1.7"/>
<rect x="188.04" y="421.94" width="6.72" height="6.72" fill="none" stroke="#00ff00" stroke-width="1.7"/>
<rect x="207.04" y="422.14" width="6.72" height="6.72" fill="none" stroke="#00ff00" stroke-width="1.7"/>
<rect x="225.64" y="422.14" width="6.72" height="6.72" fill="none" stroke="#00ff00" stroke-width="1.7"/>
<rect x="263.64" y="427.64" width="6.72" height="6.72" fill="none" stroke="#00ff00" stroke-width="1.7"/>
<rect x="301.44" y="430.94" width="6.72" height="6.72" fill="none" stroke="#00ff00" stroke-width="1.7"/>
<rect x="310.64" y="433.84" width="6.72" height="6.72" fill="none" stroke="#00ff00" stroke-width="1.7"/>
<rect x="319.94" y="439.44" width="6.72" height="6.72" fill="none" stroke="#00ff00" stroke-width="1.7"/>
<rect x="329.44" y="444.84" width="6.72" height="6.72" fill="none" stroke="#00ff00" stroke-width="1.7"/>
<rect x="338.84" y="453.64" width="6.72" height="6.72" fill="none" stroke="#00ff00" stroke-width="1.7"/>
<rect x="357.84" y="484.34" width="6.72" height="6.72" fill="none" stroke="#00ff00" stroke-width="1.7"/>
<polyline points="39.70,416.30 77.30,416.30 115.50,416.30 134.40,416.30 153.30,416.80 172.30,417.00 191.40,416.00 210.40,416.40 229.00,417.00 267.00,421.20 304.80,426.20 314.00,428.80 323.30,434.00 332.80,440.30 342.20,447.60 361.20,478.90" fill="none" stroke="#ff00ff" stroke-width="1.75" stroke-linejoin="round" />
<path d="M73.46,416.30 h7.68 M77.30,412.46 v7.68" fill="none" stroke="#ff00ff" stroke-width="1.7"/>
<path d="M111.66,416.30 h7.68 M115.50,412.46 v7.68" fill="none" stroke="#ff00ff" stroke-width="1.7"/>
<path d="M130.56,416.30 h7.68 M134.40,412.46 v7.68" fill="none" stroke="#ff00ff" stroke-width="1.7"/>
<path d="M149.46,416.80 h7.68 M153.30,412.96 v7.68" fill="none" stroke="#ff00ff" stroke-width="1.7"/>
<path d="M168.46,417.00 h7.68 M172.30,413.16 v7.68" fill="none" stroke="#ff00ff" stroke-width="1.7"/>
<path d="M187.56,416.00 h7.68 M191.40,412.16 v7.68" fill="none" stroke="#ff00ff" stroke-width="1.7"/>
<path d="M206.56,416.40 h7.68 M210.40,412.56 v7.68" fill="none" stroke="#ff00ff" stroke-width="1.7"/>
<path d="M225.16,417.00 h7.68 M229.00,413.16 v7.68" fill="none" stroke="#ff00ff" stroke-width="1.7"/>
<path d="M263.16,421.20 h7.68 M267.00,417.36 v7.68" fill="none" stroke="#ff00ff" stroke-width="1.7"/>
<path d="M300.96,426.20 h7.68 M304.80,422.36 v7.68" fill="none" stroke="#ff00ff" stroke-width="1.7"/>
<path d="M310.16,428.80 h7.68 M314.00,424.96 v7.68" fill="none" stroke="#ff00ff" stroke-width="1.7"/>
<path d="M319.46,434.00 h7.68 M323.30,430.16 v7.68" fill="none" stroke="#ff00ff" stroke-width="1.7"/>
<path d="M328.96,440.30 h7.68 M332.80,436.46 v7.68" fill="none" stroke="#ff00ff" stroke-width="1.7"/>
<path d="M338.36,447.60 h7.68 M342.20,443.76 v7.68" fill="none" stroke="#ff00ff" stroke-width="1.7"/>
<path d="M357.36,478.90 h7.68 M361.20,475.06 v7.68" fill="none" stroke="#ff00ff" stroke-width="1.7"/>
<polyline points="39.70,411.00 77.30,411.00 115.50,411.00 134.40,411.30 153.30,411.30 172.30,411.60 191.40,411.80 210.40,411.80 229.00,411.80 267.00,417.20 304.80,422.00 314.00,424.50 323.30,428.30 332.80,433.00 342.20,442.00 361.20,476.70" fill="none" stroke="#00ffff" stroke-width="1.75" stroke-linejoin="round" />
<path d="M77.30,407.63 L81.62,413.68 L72.98,413.68 Z" fill="none" stroke="#00ffff" stroke-width="1.7"/>
<path d="M115.50,407.63 L119.82,413.68 L111.18,413.68 Z" fill="none" stroke="#00ffff" stroke-width="1.7"/>
<path d="M134.40,407.93 L138.72,413.98 L130.08,413.98 Z" fill="none" stroke="#00ffff" stroke-width="1.7"/>
<path d="M153.30,407.93 L157.62,413.98 L148.98,413.98 Z" fill="none" stroke="#00ffff" stroke-width="1.7"/>
<path d="M172.30,408.23 L176.62,414.28 L167.98,414.28 Z" fill="none" stroke="#00ffff" stroke-width="1.7"/>
<path d="M191.40,408.43 L195.72,414.48 L187.08,414.48 Z" fill="none" stroke="#00ffff" stroke-width="1.7"/>
<path d="M210.40,408.43 L214.72,414.48 L206.08,414.48 Z" fill="none" stroke="#00ffff" stroke-width="1.7"/>
<path d="M229.00,408.43 L233.32,414.48 L224.68,414.48 Z" fill="none" stroke="#00ffff" stroke-width="1.7"/>
<path d="M267.00,413.83 L271.32,419.88 L262.68,419.88 Z" fill="none" stroke="#00ffff" stroke-width="1.7"/>
<path d="M304.80,418.63 L309.12,424.68 L300.48,424.68 Z" fill="none" stroke="#00ffff" stroke-width="1.7"/>
<path d="M314.00,421.13 L318.32,427.18 L309.68,427.18 Z" fill="none" stroke="#00ffff" stroke-width="1.7"/>
<path d="M323.30,424.93 L327.62,430.98 L318.98,430.98 Z" fill="none" stroke="#00ffff" stroke-width="1.7"/>
<path d="M332.80,429.63 L337.12,435.68 L328.48,435.68 Z" fill="none" stroke="#00ffff" stroke-width="1.7"/>
<path d="M342.20,438.63 L346.52,444.68 L337.88,444.68 Z" fill="none" stroke="#00ffff" stroke-width="1.7"/>
<path d="M361.20,473.33 L365.52,479.38 L356.88,479.38 Z" fill="none" stroke="#00ffff" stroke-width="1.7"/>
<polyline points="39.70,405.20 77.30,405.20 115.50,405.20 134.40,405.20 153.30,405.30 172.30,405.60 191.40,406.00 210.40,406.00 229.00,406.00 267.00,410.50 304.80,415.60 314.00,417.50 323.30,421.30 332.80,427.70 342.20,435.00 361.20,471.00" fill="none" stroke="#000" stroke-width="1.75" stroke-linejoin="round" />
<path d="M72.42,405.20 L80.04,400.73 L80.04,409.67 Z" fill="none" stroke="#000" stroke-width="1.7"/>
<path d="M110.62,405.20 L118.24,400.73 L118.24,409.67 Z" fill="none" stroke="#000" stroke-width="1.7"/>
<path d="M129.52,405.20 L137.14,400.73 L137.14,409.67 Z" fill="none" stroke="#000" stroke-width="1.7"/>
<path d="M148.42,405.30 L156.04,400.83 L156.04,409.77 Z" fill="none" stroke="#000" stroke-width="1.7"/>
<path d="M167.42,405.60 L175.04,401.13 L175.04,410.07 Z" fill="none" stroke="#000" stroke-width="1.7"/>
<path d="M186.52,406.00 L194.14,401.53 L194.14,410.47 Z" fill="none" stroke="#000" stroke-width="1.7"/>
<path d="M205.52,406.00 L213.14,401.53 L213.14,410.47 Z" fill="none" stroke="#000" stroke-width="1.7"/>
<path d="M224.12,406.00 L231.74,401.53 L231.74,410.47 Z" fill="none" stroke="#000" stroke-width="1.7"/>
<path d="M262.12,410.50 L269.74,406.03 L269.74,414.97 Z" fill="none" stroke="#000" stroke-width="1.7"/>
<path d="M299.92,415.60 L307.54,411.13 L307.54,420.07 Z" fill="none" stroke="#000" stroke-width="1.7"/>
<path d="M309.12,417.50 L316.74,413.03 L316.74,421.97 Z" fill="none" stroke="#000" stroke-width="1.7"/>
<path d="M318.42,421.30 L326.04,416.83 L326.04,425.77 Z" fill="none" stroke="#000" stroke-width="1.7"/>
<path d="M327.92,427.70 L335.54,423.23 L335.54,432.17 Z" fill="none" stroke="#000" stroke-width="1.7"/>
<path d="M337.32,435.00 L344.94,430.53 L344.94,439.47 Z" fill="none" stroke="#000" stroke-width="1.7"/>
<path d="M356.32,471.00 L363.94,466.53 L363.94,475.47 Z" fill="none" stroke="#000" stroke-width="1.7"/>
<rect x="39.70" y="396.70" width="321.70" height="106.20" stroke="#646464" stroke-width="0.8" fill="none"/>
<line x1="39.70" y1="502.90" x2="39.70" y2="500.40" stroke="#646464" stroke-width="0.7" />
<line x1="39.70" y1="396.70" x2="39.70" y2="399.20" stroke="#646464" stroke-width="0.7" />
<line x1="87.00" y1="502.90" x2="87.00" y2="500.40" stroke="#646464" stroke-width="0.7" />
<line x1="87.00" y1="396.70" x2="87.00" y2="399.20" stroke="#646464" stroke-width="0.7" />
<line x1="134.30" y1="502.90" x2="134.30" y2="500.40" stroke="#646464" stroke-width="0.7" />
<line x1="134.30" y1="396.70" x2="134.30" y2="399.20" stroke="#646464" stroke-width="0.7" />
<line x1="181.60" y1="502.90" x2="181.60" y2="500.40" stroke="#646464" stroke-width="0.7" />
<line x1="181.60" y1="396.70" x2="181.60" y2="399.20" stroke="#646464" stroke-width="0.7" />
<line x1="228.90" y1="502.90" x2="228.90" y2="500.40" stroke="#646464" stroke-width="0.7" />
<line x1="228.90" y1="396.70" x2="228.90" y2="399.20" stroke="#646464" stroke-width="0.7" />
<line x1="276.20" y1="502.90" x2="276.20" y2="500.40" stroke="#646464" stroke-width="0.7" />
<line x1="276.20" y1="396.70" x2="276.20" y2="399.20" stroke="#646464" stroke-width="0.7" />
<line x1="323.50" y1="502.90" x2="323.50" y2="500.40" stroke="#646464" stroke-width="0.7" />
<line x1="323.50" y1="396.70" x2="323.50" y2="399.20" stroke="#646464" stroke-width="0.7" />
<text x="16.30" y="431.30" font-size="13.5" text-anchor="start" fill="#000" >10<tspan font-size="9" dy="-6" dx="0.5">0</tspan></text>
<text x="16.30" y="469.60" font-size="13.5" text-anchor="start" fill="#000" >10<tspan font-size="9" dy="-6" dx="0.5">-1</tspan></text>
<text transform="translate(9.5,451) rotate(-90)" font-size="12.5" text-anchor="middle"><tspan font-style="italic">l</tspan> [m]</text>
<text x="47.30" y="493.50" font-size="12.8" text-anchor="start" fill="#000" >(e)</text>
<text x="40.00" y="519.00" font-size="13.5" text-anchor="middle" fill="#000" >-0.3</text>
<text x="129.70" y="519.00" font-size="13.5" text-anchor="middle" fill="#000" >-0.2</text>
<text x="223.40" y="519.00" font-size="13.5" text-anchor="middle" fill="#000" >-0.1</text>
<text x="321.60" y="519.00" font-size="13.5" text-anchor="middle" fill="#000" >0</text>
<text x="197.80" y="540.80" font-size="13.5" text-anchor="middle" fill="#000" ><tspan font-style="italic">z</tspan><tspan font-size="7" dy="2" dx="0.5">o</tspan><tspan dy="-2"> [m]</tspan></text>
<rect x="367.70" y="405.80" width="54.20" height="69.50" stroke="#111" stroke-width="1.1" fill="#fff"/>
<line x1="373.70" y1="412.50" x2="391.00" y2="412.50" stroke="#ff0000" stroke-width="1.75" />
<circle cx="381.80" cy="412.50" r="2.97" fill="none" stroke="#ff0000" stroke-width="1.5"/>
<text x="392.50" y="416.90" font-size="13.2" text-anchor="start" fill="#000" >5K</text>
<line x1="373.70" y1="423.50" x2="391.00" y2="423.50" stroke="#0000ff" stroke-width="1.75" />
<path d="M381.80,419.54 L384.59,423.50 L381.80,427.46 L379.01,423.50 Z" fill="none" stroke="#0000ff" stroke-width="1.5"/>
<text x="392.50" y="427.90" font-size="13.2" text-anchor="start" fill="#000" >10K</text>
<line x1="373.70" y1="434.60" x2="391.00" y2="434.60" stroke="#00ff00" stroke-width="1.75" />
<rect x="379.28" y="432.08" width="5.04" height="5.04" fill="none" stroke="#00ff00" stroke-width="1.5"/>
<text x="392.50" y="439.00" font-size="13.2" text-anchor="start" fill="#000" >30K</text>
<line x1="373.70" y1="445.50" x2="391.00" y2="445.50" stroke="#ff00ff" stroke-width="1.75" />
<path d="M378.92,445.50 h5.76 M381.80,442.62 v5.76" fill="none" stroke="#ff00ff" stroke-width="1.5"/>
<text x="392.50" y="449.90" font-size="13.2" text-anchor="start" fill="#000" >50K</text>
<line x1="373.70" y1="456.30" x2="391.00" y2="456.30" stroke="#00ffff" stroke-width="1.75" />
<path d="M381.80,453.06 L385.04,458.63 L378.56,458.63 Z" fill="none" stroke="#00ffff" stroke-width="1.5"/>
<text x="392.50" y="460.70" font-size="13.2" text-anchor="start" fill="#000" >70K</text>
<line x1="373.70" y1="467.50" x2="391.00" y2="467.50" stroke="#000" stroke-width="1.75" />
<path d="M378.14,467.50 L383.85,464.15 L383.85,470.85 Z" fill="none" stroke="#000" stroke-width="1.5"/>
<text x="392.50" y="471.90" font-size="13.2" text-anchor="start" fill="#000" >100K</text>
<line x1="114.90" y1="579.00" x2="114.90" y2="702.10" stroke="#aaa" stroke-width="0.7" stroke-dasharray="0.8,2.6" />
<line x1="46.40" y1="640.55" x2="183.40" y2="640.55" stroke="#aaa" stroke-width="0.7" stroke-dasharray="0.8,2.6" />
<rect x="46.40" y="579.00" width="137.00" height="123.10" stroke="#646464" stroke-width="0.8" fill="none"/>
<line x1="46.40" y1="702.10" x2="46.40" y2="699.60" stroke="#646464" stroke-width="0.7" />
<line x1="46.40" y1="579.00" x2="46.40" y2="581.50" stroke="#646464" stroke-width="0.7" />
<line x1="114.90" y1="702.10" x2="114.90" y2="699.60" stroke="#646464" stroke-width="0.7" />
<line x1="114.90" y1="579.00" x2="114.90" y2="581.50" stroke="#646464" stroke-width="0.7" />
<line x1="183.40" y1="702.10" x2="183.40" y2="699.60" stroke="#646464" stroke-width="0.7" />
<line x1="183.40" y1="579.00" x2="183.40" y2="581.50" stroke="#646464" stroke-width="0.7" />
<line x1="46.40" y1="579.00" x2="48.90" y2="579.00" stroke="#646464" stroke-width="0.7" />
<line x1="180.90" y1="579.00" x2="183.40" y2="579.00" stroke="#646464" stroke-width="0.7" />
<line x1="46.40" y1="640.55" x2="48.90" y2="640.55" stroke="#646464" stroke-width="0.7" />
<line x1="180.90" y1="640.55" x2="183.40" y2="640.55" stroke="#646464" stroke-width="0.7" />
<line x1="46.40" y1="702.10" x2="48.90" y2="702.10" stroke="#646464" stroke-width="0.7" />
<line x1="180.90" y1="702.10" x2="183.40" y2="702.10" stroke="#646464" stroke-width="0.7" />
<polyline points="46.40,701.60 60.10,689.60 87.50,669.60 114.90,649.70 142.30,627.40 183.40,596.80" fill="none" stroke="#ff0000" stroke-width="1.1" stroke-linejoin="round" />
<circle cx="60.10" cy="689.60" r="3.40" fill="none" stroke="#ff0000" stroke-width="1.45"/>
<circle cx="87.50" cy="669.60" r="3.40" fill="none" stroke="#ff0000" stroke-width="1.45"/>
<circle cx="114.90" cy="649.70" r="3.40" fill="none" stroke="#ff0000" stroke-width="1.45"/>
<circle cx="142.30" cy="627.40" r="3.40" fill="none" stroke="#ff0000" stroke-width="1.45"/>
<circle cx="183.40" cy="596.80" r="3.40" fill="none" stroke="#ff0000" stroke-width="1.45"/>
<polyline points="46.40,701.60 60.10,692.50 87.50,679.20 114.90,665.50 142.30,652.00 183.40,630.80" fill="none" stroke="#0000ff" stroke-width="1.1" stroke-dasharray="7,5" stroke-linejoin="round" />
<path d="M60.10,688.54 L62.89,692.50 L60.10,696.46 L57.31,692.50 Z" fill="none" stroke="#0000ff" stroke-width="1.45"/>
<path d="M87.50,675.24 L90.29,679.20 L87.50,683.16 L84.71,679.20 Z" fill="none" stroke="#0000ff" stroke-width="1.45"/>
<path d="M114.90,661.54 L117.69,665.50 L114.90,669.46 L112.11,665.50 Z" fill="none" stroke="#0000ff" stroke-width="1.45"/>
<path d="M142.30,648.04 L145.09,652.00 L142.30,655.96 L139.51,652.00 Z" fill="none" stroke="#0000ff" stroke-width="1.45"/>
<path d="M183.40,626.84 L186.19,630.80 L183.40,634.76 L180.61,630.80 Z" fill="none" stroke="#0000ff" stroke-width="1.45"/>
<polyline points="46.40,701.60 60.10,694.90 87.50,684.90 114.90,674.30 142.30,663.90 183.40,648.00" fill="none" stroke="#00ff00" stroke-width="1.1" stroke-dasharray="3,3" stroke-linejoin="round" />
<rect x="57.44" y="692.24" width="5.32" height="5.32" fill="none" stroke="#00ff00" stroke-width="1.45"/>
<rect x="84.84" y="682.24" width="5.32" height="5.32" fill="none" stroke="#00ff00" stroke-width="1.45"/>
<rect x="112.24" y="671.64" width="5.32" height="5.32" fill="none" stroke="#00ff00" stroke-width="1.45"/>
<rect x="139.64" y="661.24" width="5.32" height="5.32" fill="none" stroke="#00ff00" stroke-width="1.45"/>
<rect x="180.74" y="645.34" width="5.32" height="5.32" fill="none" stroke="#00ff00" stroke-width="1.45"/>
<polyline points="46.40,701.60 60.10,695.80 87.50,687.70 114.90,678.00 142.30,669.50 183.40,659.00" fill="none" stroke="#ff00ff" stroke-width="1.1" stroke-dasharray="5,2,1.2,2" stroke-linejoin="round" />
<path d="M56.90,695.80 h6.40 M60.10,692.60 v6.40" fill="none" stroke="#ff00ff" stroke-width="1.45"/>
<path d="M84.30,687.70 h6.40 M87.50,684.50 v6.40" fill="none" stroke="#ff00ff" stroke-width="1.45"/>
<path d="M111.70,678.00 h6.40 M114.90,674.80 v6.40" fill="none" stroke="#ff00ff" stroke-width="1.45"/>
<path d="M139.10,669.50 h6.40 M142.30,666.30 v6.40" fill="none" stroke="#ff00ff" stroke-width="1.45"/>
<path d="M180.20,659.00 h6.40 M183.40,655.80 v6.40" fill="none" stroke="#ff00ff" stroke-width="1.45"/>
<polyline points="46.40,701.60 60.10,696.40 87.50,689.20 114.90,681.80 142.30,674.50 183.40,664.50" fill="none" stroke="#00ffff" stroke-width="1.1" stroke-dasharray="1.3,1.0" stroke-linejoin="round" />
<path d="M60.10,692.51 L63.99,699.20 L56.21,699.20 Z" fill="none" stroke="#00ffff" stroke-width="1.45"/>
<path d="M87.50,685.31 L91.39,692.00 L83.61,692.00 Z" fill="none" stroke="#00ffff" stroke-width="1.45"/>
<path d="M114.90,677.91 L118.79,684.60 L111.01,684.60 Z" fill="none" stroke="#00ffff" stroke-width="1.45"/>
<path d="M142.30,670.61 L146.19,677.30 L138.41,677.30 Z" fill="none" stroke="#00ffff" stroke-width="1.45"/>
<path d="M183.40,660.61 L187.29,667.30 L179.51,667.30 Z" fill="none" stroke="#00ffff" stroke-width="1.45"/>
<line x1="50.00" y1="700.80" x2="103.00" y2="700.80" stroke="#222" stroke-width="1.2" />
<path d="M47.6,700.8 L55,698.9 L55,702.7 Z" fill="#111"/>
<text x="95.60" y="699.00" font-size="12" text-anchor="start" fill="#000" ><tspan font-style="italic">l</tspan><tspan font-size="8" dy="1">0</tspan></text>
<text transform="translate(42.90,585.20) scale(1.0,1.13)" font-size="13.8" text-anchor="end" fill="#000" >10</text>
<text transform="translate(42.90,646.60) scale(1.0,1.13)" font-size="13.8" text-anchor="end" fill="#000" >5</text>
<text transform="translate(42.90,707.50) scale(1.0,1.13)" font-size="13.8" text-anchor="end" fill="#000" >0</text>
<text transform="translate(49.60,716.60) scale(1.0,1.13)" font-size="13.8" text-anchor="middle" fill="#000" >0</text>
<text transform="translate(115.00,716.60) scale(1.0,1.13)" font-size="13.8" text-anchor="middle" fill="#000" >50</text>
<text transform="translate(182.00,716.60) scale(1.0,1.13)" font-size="13.8" text-anchor="middle" fill="#000" >100</text>
<text x="117.00" y="736.20" font-size="13.5" text-anchor="middle" fill="#000" ><tspan font-style="italic">K</tspan><tspan font-size="9.5" dy="2">0</tspan><tspan dy="-2"> [K]</tspan></text>
<text transform="translate(24,645) rotate(-90)" font-size="13" text-anchor="middle"><tspan font-style="italic">l</tspan> [m]</text>
<rect x="50.60" y="552.60" width="97.30" height="65.90" stroke="#111" stroke-width="1" fill="#fff"/>
<line x1="56.00" y1="560.80" x2="86.50" y2="560.80" stroke="#ff0000" stroke-width="1.4" />
<circle cx="71.50" cy="560.80" r="3.13" fill="none" stroke="#ff0000" stroke-width="1.4"/>
<text x="90.00" y="565.10" font-size="12.5" text-anchor="start" fill="#000" ><tspan font-style="italic">B<tspan font-size="9.5">m</tspan></tspan><tspan dx="-0.8"> =1.0[T]</tspan></text>
<line x1="56.00" y1="573.00" x2="86.50" y2="573.00" stroke="#0000ff" stroke-width="1.4" stroke-dasharray="7,5" />
<path d="M71.50,568.82 L74.44,573.00 L71.50,577.18 L68.56,573.00 Z" fill="none" stroke="#0000ff" stroke-width="1.4"/>
<text x="90.00" y="577.30" font-size="12.5" text-anchor="start" fill="#000" ><tspan font-style="italic">B<tspan font-size="9.5">m</tspan></tspan><tspan dx="-0.8"> =1.5[T]</tspan></text>
<line x1="56.00" y1="585.20" x2="86.50" y2="585.20" stroke="#00ff00" stroke-width="1.4" stroke-dasharray="3,3" />
<rect x="68.84" y="582.54" width="5.32" height="5.32" fill="none" stroke="#00ff00" stroke-width="1.4"/>
<text x="90.00" y="589.50" font-size="12.5" text-anchor="start" fill="#000" ><tspan font-style="italic">B<tspan font-size="9.5">m</tspan></tspan><tspan dx="-0.8"> =2.0[T]</tspan></text>
<line x1="56.00" y1="597.20" x2="86.50" y2="597.20" stroke="#ff00ff" stroke-width="1.4" stroke-dasharray="5,2,1.2,2" />
<path d="M68.46,597.20 h6.08 M71.50,594.16 v6.08" fill="none" stroke="#ff00ff" stroke-width="1.4"/>
<text x="90.00" y="601.50" font-size="12.5" text-anchor="start" fill="#000" ><tspan font-style="italic">B<tspan font-size="9.5">m</tspan></tspan><tspan dx="-0.8"> =2.5[T]</tspan></text>
<line x1="56.00" y1="609.80" x2="86.50" y2="609.80" stroke="#00ffff" stroke-width="1.4" stroke-dasharray="1.3,1.0" />
<path d="M71.50,606.38 L74.92,612.26 L68.08,612.26 Z" fill="none" stroke="#00ffff" stroke-width="1.4"/>
<text x="90.00" y="614.10" font-size="12.5" text-anchor="start" fill="#000" ><tspan font-style="italic">B<tspan font-size="9.5">m</tspan></tspan><tspan dx="-0.8"> =3.0[T]</tspan></text>
<text x="156.00" y="593.50" font-size="13" text-anchor="start" fill="#000" >(f)</text>
<line x1="301.85" y1="579.00" x2="301.85" y2="702.10" stroke="#aaa" stroke-width="0.7" stroke-dasharray="0.8,2.6" />
<line x1="233.10" y1="640.55" x2="370.60" y2="640.55" stroke="#aaa" stroke-width="0.7" stroke-dasharray="0.8,2.6" />
<rect x="233.10" y="579.00" width="137.50" height="123.10" stroke="#646464" stroke-width="0.8" fill="none"/>
<line x1="233.10" y1="702.10" x2="233.10" y2="699.60" stroke="#646464" stroke-width="0.7" />
<line x1="233.10" y1="579.00" x2="233.10" y2="581.50" stroke="#646464" stroke-width="0.7" />
<line x1="301.85" y1="702.10" x2="301.85" y2="699.60" stroke="#646464" stroke-width="0.7" />
<line x1="301.85" y1="579.00" x2="301.85" y2="581.50" stroke="#646464" stroke-width="0.7" />
<line x1="370.60" y1="702.10" x2="370.60" y2="699.60" stroke="#646464" stroke-width="0.7" />
<line x1="370.60" y1="579.00" x2="370.60" y2="581.50" stroke="#646464" stroke-width="0.7" />
<line x1="233.10" y1="579.00" x2="235.60" y2="579.00" stroke="#646464" stroke-width="0.7" />
<line x1="368.10" y1="579.00" x2="370.60" y2="579.00" stroke="#646464" stroke-width="0.7" />
<line x1="233.10" y1="640.55" x2="235.60" y2="640.55" stroke="#646464" stroke-width="0.7" />
<line x1="368.10" y1="640.55" x2="370.60" y2="640.55" stroke="#646464" stroke-width="0.7" />
<line x1="233.10" y1="702.10" x2="235.60" y2="702.10" stroke="#646464" stroke-width="0.7" />
<line x1="368.10" y1="702.10" x2="370.60" y2="702.10" stroke="#646464" stroke-width="0.7" />
<line x1="233.10" y1="701.90" x2="370.60" y2="598.40" stroke="#ff0000" stroke-width="1.2" />
<line x1="233.10" y1="701.85" x2="370.60" y2="598.35" stroke="#ff00ff" stroke-width="1.3" stroke-dasharray="4.5,1.5,1.5,1.5" />
<line x1="233.10" y1="701.40" x2="370.60" y2="597.90" stroke="#0000ff" stroke-width="1.1" stroke-dasharray="3,5" />
<line x1="233.10" y1="701.20" x2="370.60" y2="597.70" stroke="#00ff00" stroke-width="1.1" stroke-dasharray="1.5,4.5" />
<line x1="233.10" y1="700.80" x2="370.60" y2="597.30" stroke="#00ffff" stroke-width="1.3" stroke-dasharray="1.5,1.0" />
<text transform="translate(228.10,585.40) scale(1.0,1.13)" font-size="13.8" text-anchor="end" fill="#000" >10</text>
<text transform="translate(228.10,647.00) scale(1.0,1.13)" font-size="13.8" text-anchor="end" fill="#000" >5</text>
<text transform="translate(228.10,705.20) scale(1.0,1.13)" font-size="13.8" text-anchor="end" fill="#000" >0</text>
<text transform="translate(232.50,716.60) scale(1.0,1.13)" font-size="13.8" text-anchor="middle" fill="#000" >0</text>
<text transform="translate(300.50,716.60) scale(1.0,1.13)" font-size="13.8" text-anchor="middle" fill="#000" >50</text>
<text transform="translate(369.00,716.60) scale(1.0,1.13)" font-size="13.8" text-anchor="middle" fill="#000" >100</text>
<text x="307.30" y="736.20" font-size="13.5" text-anchor="middle" fill="#000" ><tspan font-style="italic">K</tspan><tspan font-size="9.5" dy="2">0</tspan><tspan dy="-2"> [K]</tspan></text>
<text transform="translate(212.3,640.5) rotate(-90)" font-size="13.2" text-anchor="middle">(<tspan font-style="italic">l</tspan> - <tspan font-style="italic">l</tspan><tspan font-size="9.5">0</tspan>)<tspan font-style="italic">B<tspan font-size="11">m</tspan></tspan> [Tm]</text>
<rect x="236.00" y="555.70" width="91.00" height="65.20" stroke="#111" stroke-width="1" fill="#fff"/>
<line x1="239.20" y1="562.90" x2="266.80" y2="562.90" stroke="#ff0000" stroke-width="1.7" />
<text x="269.50" y="566.90" font-size="12.5" text-anchor="start" fill="#000" ><tspan font-style="italic">B<tspan font-size="9.5">m</tspan></tspan><tspan dx="-0.8"> =1.0[T]</tspan></text>
<line x1="239.20" y1="575.50" x2="266.80" y2="575.50" stroke="#0000ff" stroke-width="1.7" stroke-dasharray="6.5,4.5" />
<text x="269.50" y="579.50" font-size="12.5" text-anchor="start" fill="#000" ><tspan font-style="italic">B<tspan font-size="9.5">m</tspan></tspan><tspan dx="-0.8"> =1.5[T]</tspan></text>
<line x1="239.20" y1="588.30" x2="266.80" y2="588.30" stroke="#00ff00" stroke-width="1.7" stroke-dasharray="3,3" />
<text x="269.50" y="592.30" font-size="12.5" text-anchor="start" fill="#000" ><tspan font-style="italic">B<tspan font-size="9.5">m</tspan></tspan><tspan dx="-0.8"> =2.0[T]</tspan></text>
<line x1="239.20" y1="601.00" x2="266.80" y2="601.00" stroke="#ff00ff" stroke-width="1.7" stroke-dasharray="5.5,2,1.5,2" />
<text x="269.50" y="605.00" font-size="12.5" text-anchor="start" fill="#000" ><tspan font-style="italic">B<tspan font-size="9.5">m</tspan></tspan><tspan dx="-0.8"> =2.5[T]</tspan></text>
<line x1="239.20" y1="613.60" x2="266.80" y2="613.60" stroke="#00ffff" stroke-width="1.7" stroke-dasharray="1.3,0.9" />
<text x="269.50" y="617.60" font-size="12.5" text-anchor="start" fill="#000" ><tspan font-style="italic">B<tspan font-size="9.5">m</tspan></tspan><tspan dx="-0.8"> =3.0[T]</tspan></text>
<text x="341.50" y="593.00" font-size="13" text-anchor="start" fill="#000" >(g)</text>
</svg>
</body></html>
